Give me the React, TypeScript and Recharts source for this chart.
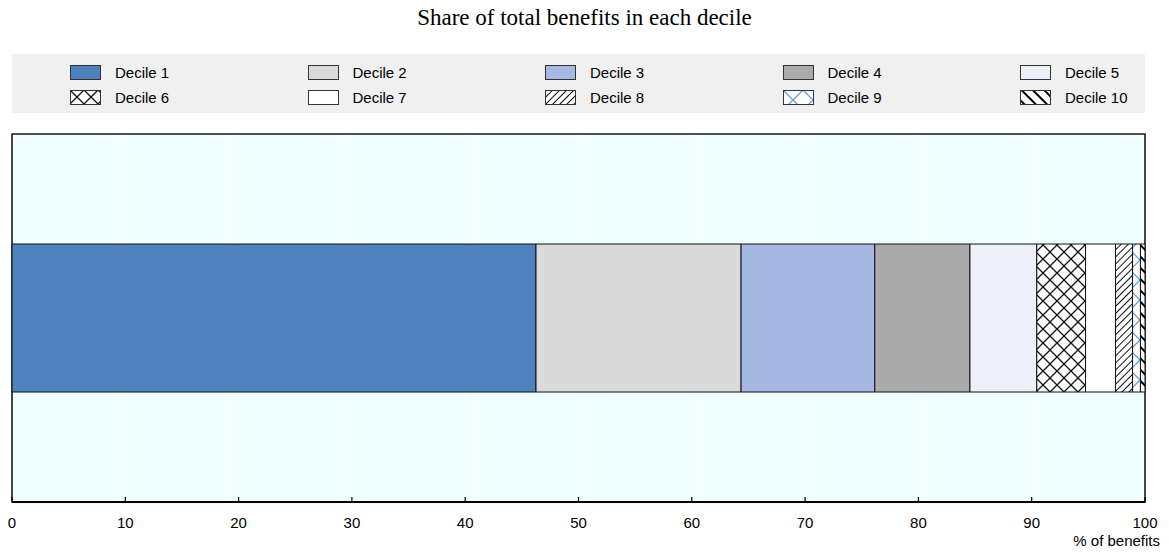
import React from 'react';
import { BarChart, Bar, XAxis, YAxis, CartesianGrid, ReferenceArea } from 'recharts';

const categories = ['Total benefits'];
const deciles = ['Decile 1', 'Decile 2', 'Decile 3', 'Decile 4', 'Decile 5', 'Decile 6', 'Decile 7', 'Decile 8', 'Decile 9', 'Decile 10'];
const shares = [46.25, 18.1, 11.8, 8.4, 5.9, 4.3, 2.65, 1.5, 0.7, 0.4];
const xTicks = [0, 10, 20, 30, 40, 50, 60, 70, 80, 90, 100];

const fills = ['#4F81BD', '#DADADA', '#A7B9E3', '#ABABAB', '#EDF0F9', 'url(#p6)', '#FFFFFF', 'url(#p8)', 'url(#p9)', 'url(#p10)'];

const data = categories.map(name => {
  const row: Record<string, number | string> = { name };
  deciles.forEach((d, i) => { row[d] = shares[i]; });
  return row;
});

const FONT = 'Arial, "Liberation Sans", sans-serif';

const Patterns = () => (
  <svg width={0} height={0} style={{ position: 'absolute' }}>
    <defs>
      <pattern id="p6" patternUnits="userSpaceOnUse" width={14} height={14}>
        <rect width={14} height={14} fill="#fff" />
        <path d="M0,0 L14,14 M14,0 L0,14" stroke="#111" strokeWidth={1.3} />
      </pattern>
      <pattern id="p8" patternUnits="userSpaceOnUse" width={5} height={5} patternTransform="rotate(45)">
        <rect width={5} height={5} fill="#fff" />
        <line x1={0} y1={0} x2={0} y2={5} stroke="#111" strokeWidth={2} />
      </pattern>
      <pattern id="p9" patternUnits="userSpaceOnUse" width={20} height={20}>
        <rect width={20} height={20} fill="#fff" />
        <path d="M0,0 L20,20 M20,0 L0,20" stroke="#6F9BD8" strokeWidth={1.3} />
      </pattern>
      <pattern id="p10" patternUnits="userSpaceOnUse" width={8} height={8} patternTransform="rotate(-45)">
        <rect width={8} height={8} fill="#fff" />
        <line x1={0} y1={0} x2={0} y2={8} stroke="#000" strokeWidth={4} />
      </pattern>
    </defs>
  </svg>
);

const LegendBox = () => (
  <div style={{ position: 'absolute', left: 12, top: 54, width: 1133, height: 59, background: '#F0F0F0', fontFamily: FONT, fontSize: 15, color: '#000' }}>
    {deciles.map((d, i) => {
      const col = i % 5;
      const row = Math.floor(i / 5);
      return (
        <div key={d} style={{ position: 'absolute', left: 58 + col * 237.5, top: 11 + row * 25, height: 15, display: 'flex', alignItems: 'center' }}>
          <svg width={31} height={15} style={{ display: 'block' }}>
            <rect x={0.5} y={0.5} width={30} height={14} fill={fills[i]} stroke="#333" strokeWidth={1} />
          </svg>
          <span style={{ marginLeft: 14, lineHeight: '15px' }}>{d}</span>
        </div>
      );
    })}
  </div>
);

const Tick = (props: any) => {
  const { x, y, payload } = props;
  return (
    <g>
      <line x1={x} y1={y} x2={x} y2={y - 5} stroke="#000" strokeWidth={1.2} />
      <text x={x} y={y + 26} textAnchor="middle" fontFamily={FONT} fontSize={15} fill="#000">{payload.value}</text>
    </g>
  );
};

const AxisLabel = (props: any) => {
  const { viewBox } = props;
  return (
    <text x={viewBox.x + viewBox.width + 15} y={viewBox.y + 44} textAnchor="end" fontFamily={FONT} fontSize={15} fill="#000">% of benefits</text>
  );
};

export default function App() {
  return (
    <div style={{ position: 'absolute', left: 0, top: 0, width: 1169, height: 555, background: '#fff' }}>
      <Patterns />
      <div style={{ position: 'absolute', top: 5, left: 0, width: 1169, textAlign: 'center', fontFamily: '"Times New Roman", "Liberation Serif", serif', fontSize: 23 }}>
        Share of total benefits in each decile
      </div>
      <LegendBox />
      <div style={{ position: 'absolute', left: 0, top: 0 }}>
        <BarChart width={1169} height={555} data={data} layout="vertical" margin={{ top: 134, right: 24, bottom: 23, left: 12 }} barCategoryGap={0}>
          <CartesianGrid horizontal={false} stroke="#FFFFFF" strokeWidth={1} fill="#F0FFFF" />
          <XAxis type="number" domain={[0, 100]} ticks={xTicks} height={30} tickLine={false} tickSize={0} tickMargin={0}
            axisLine={{ stroke: '#000', strokeWidth: 2 }} tick={<Tick />} label={<AxisLabel />} interval={0} />
          <YAxis type="category" dataKey="name" width={0} tick={false} tickLine={false} axisLine={false} />
          {deciles.map((d, i) => (
            <Bar key={d} dataKey={d} stackId="a" fill={fills[i]} stroke="#111" strokeWidth={1} barSize={148} isAnimationActive={false} />
          ))}
          <ReferenceArea x1={0} x2={100} fill="none" fillOpacity={0} stroke="#1a1a1a" strokeWidth={1.6} ifOverflow="visible" />
        </BarChart>
      </div>
    </div>
  );
}
